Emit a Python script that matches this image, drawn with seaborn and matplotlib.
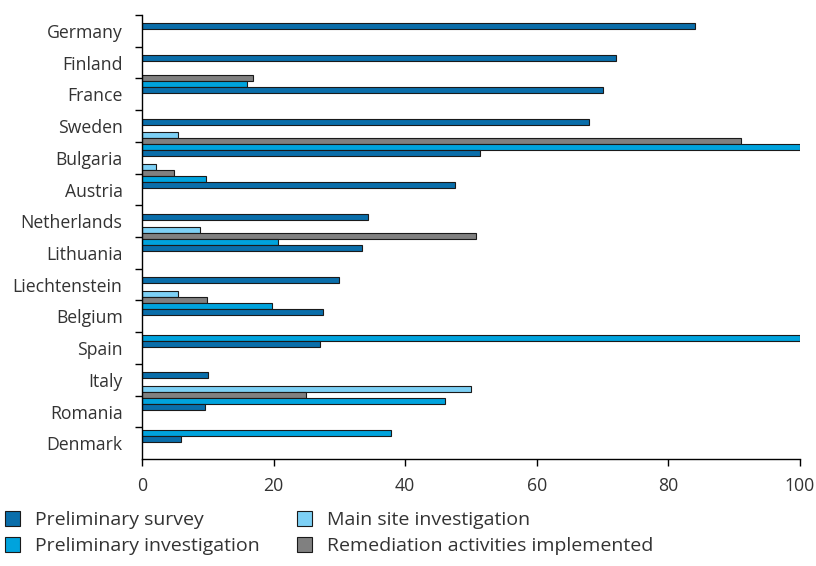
import numpy as np
import pandas as pd
import matplotlib
matplotlib.use("Agg")
import matplotlib.pyplot as plt
import seaborn as sns

countries = ["Germany", "Finland", "France", "Sweden", "Bulgaria", "Austria",
             "Netherlands", "Lithuania", "Liechtenstein", "Belgium", "Spain",
             "Italy", "Romania", "Denmark"]
prelim_survey = [84, 72, 70, 68, 51.3, 47.5, 34.3, 33.4, 29.9, 27.5, 27, 10, 9.5, 5.9]
prelim_invest = [None, None, 16, None, 100, 9.8, None, 20.7, None, 19.8, 100, None, 46, 37.8]
main_site = [None, None, None, None, 5.5, 2.2, None, 8.8, None, 5.5, None, None, 50, None]
remediation = [None, None, 16.8, None, 91, 4.9, None, 50.7, None, 9.9, None, None, 24.9, None]

series_names = ["Preliminary survey", "Preliminary investigation",
                "Main site investigation", "Remediation activities implemented"]
series_vals = [prelim_survey, prelim_invest, main_site, remediation]
colors = {"Preliminary survey": "#0A6EAA",
          "Preliminary investigation": "#00A3DD",
          "Main site investigation": "#7DD0F5",
          "Remediation activities implemented": "#808080"}

rows = []
for name, vals in zip(series_names, series_vals):
    for c, v in zip(countries, vals):
        if v is not None:
            rows.append({"country": c, "series": name, "value": v})
df = pd.DataFrame(rows)

sns.set_style("white")
plt.rcParams["font.family"] = ["Open Sans", "DejaVu Sans"]
text_color = "#333333"

fig = plt.figure(figsize=(8.16, 5.66), dpi=100)
ax = fig.add_axes([142 / 816, 1 - 459 / 566, 658 / 816, 444 / 566])

hue_order = ["Main site investigation", "Remediation activities implemented",
             "Preliminary investigation", "Preliminary survey"]
sns.barplot(data=df, y="country", x="value", hue="series", order=countries,
            hue_order=hue_order, palette=colors, orient="h", width=0.76,
            errorbar=None, edgecolor="#1a1a1a", linewidth=0.8, ax=ax,
            saturation=1)

label_off = 0.43
top = -0.075
n = len(countries)
ax.set_ylim(n + top, top)
ax.set_xlim(0, 100)
ax.set_yticks(np.arange(n) + label_off)
ax.set_yticklabels(countries)
ax.set_yticks(np.arange(n) + top, minor=True)
ax.tick_params(axis="y", which="major", length=0, labelsize=12.7,
               labelcolor=text_color, pad=14)
ax.tick_params(axis="y", which="minor", length=5, width=1, color="black",
               direction="out", left=True)
ax.set_xticks([0, 20, 40, 60, 80, 100])
ax.tick_params(axis="x", length=5, width=1, color="black", direction="out",
               labelsize=12.7, labelcolor=text_color, pad=8, bottom=True)
ax.set_xlabel("")
ax.set_ylabel("")
for s in ["top", "right"]:
    ax.spines[s].set_visible(False)
for s in ["left", "bottom"]:
    ax.spines[s].set_color("black")
    ax.spines[s].set_linewidth(1)

handles, labels = ax.get_legend_handles_labels()
hmap = dict(zip(labels, handles))
order = ["Preliminary survey", "Preliminary investigation",
         "Main site investigation", "Remediation activities implemented"]
ax.legend([hmap[l] for l in order], order, ncol=2, frameon=False,
          loc="upper left", bbox_to_anchor=(-145 / 658, -0.1),
          fontsize=14, labelcolor=text_color, handlelength=0.8,
          handleheight=0.8, handletextpad=0.75, columnspacing=1.9,
          labelspacing=0.4, borderaxespad=0)

fig.savefig("out.png", dpi=100)
